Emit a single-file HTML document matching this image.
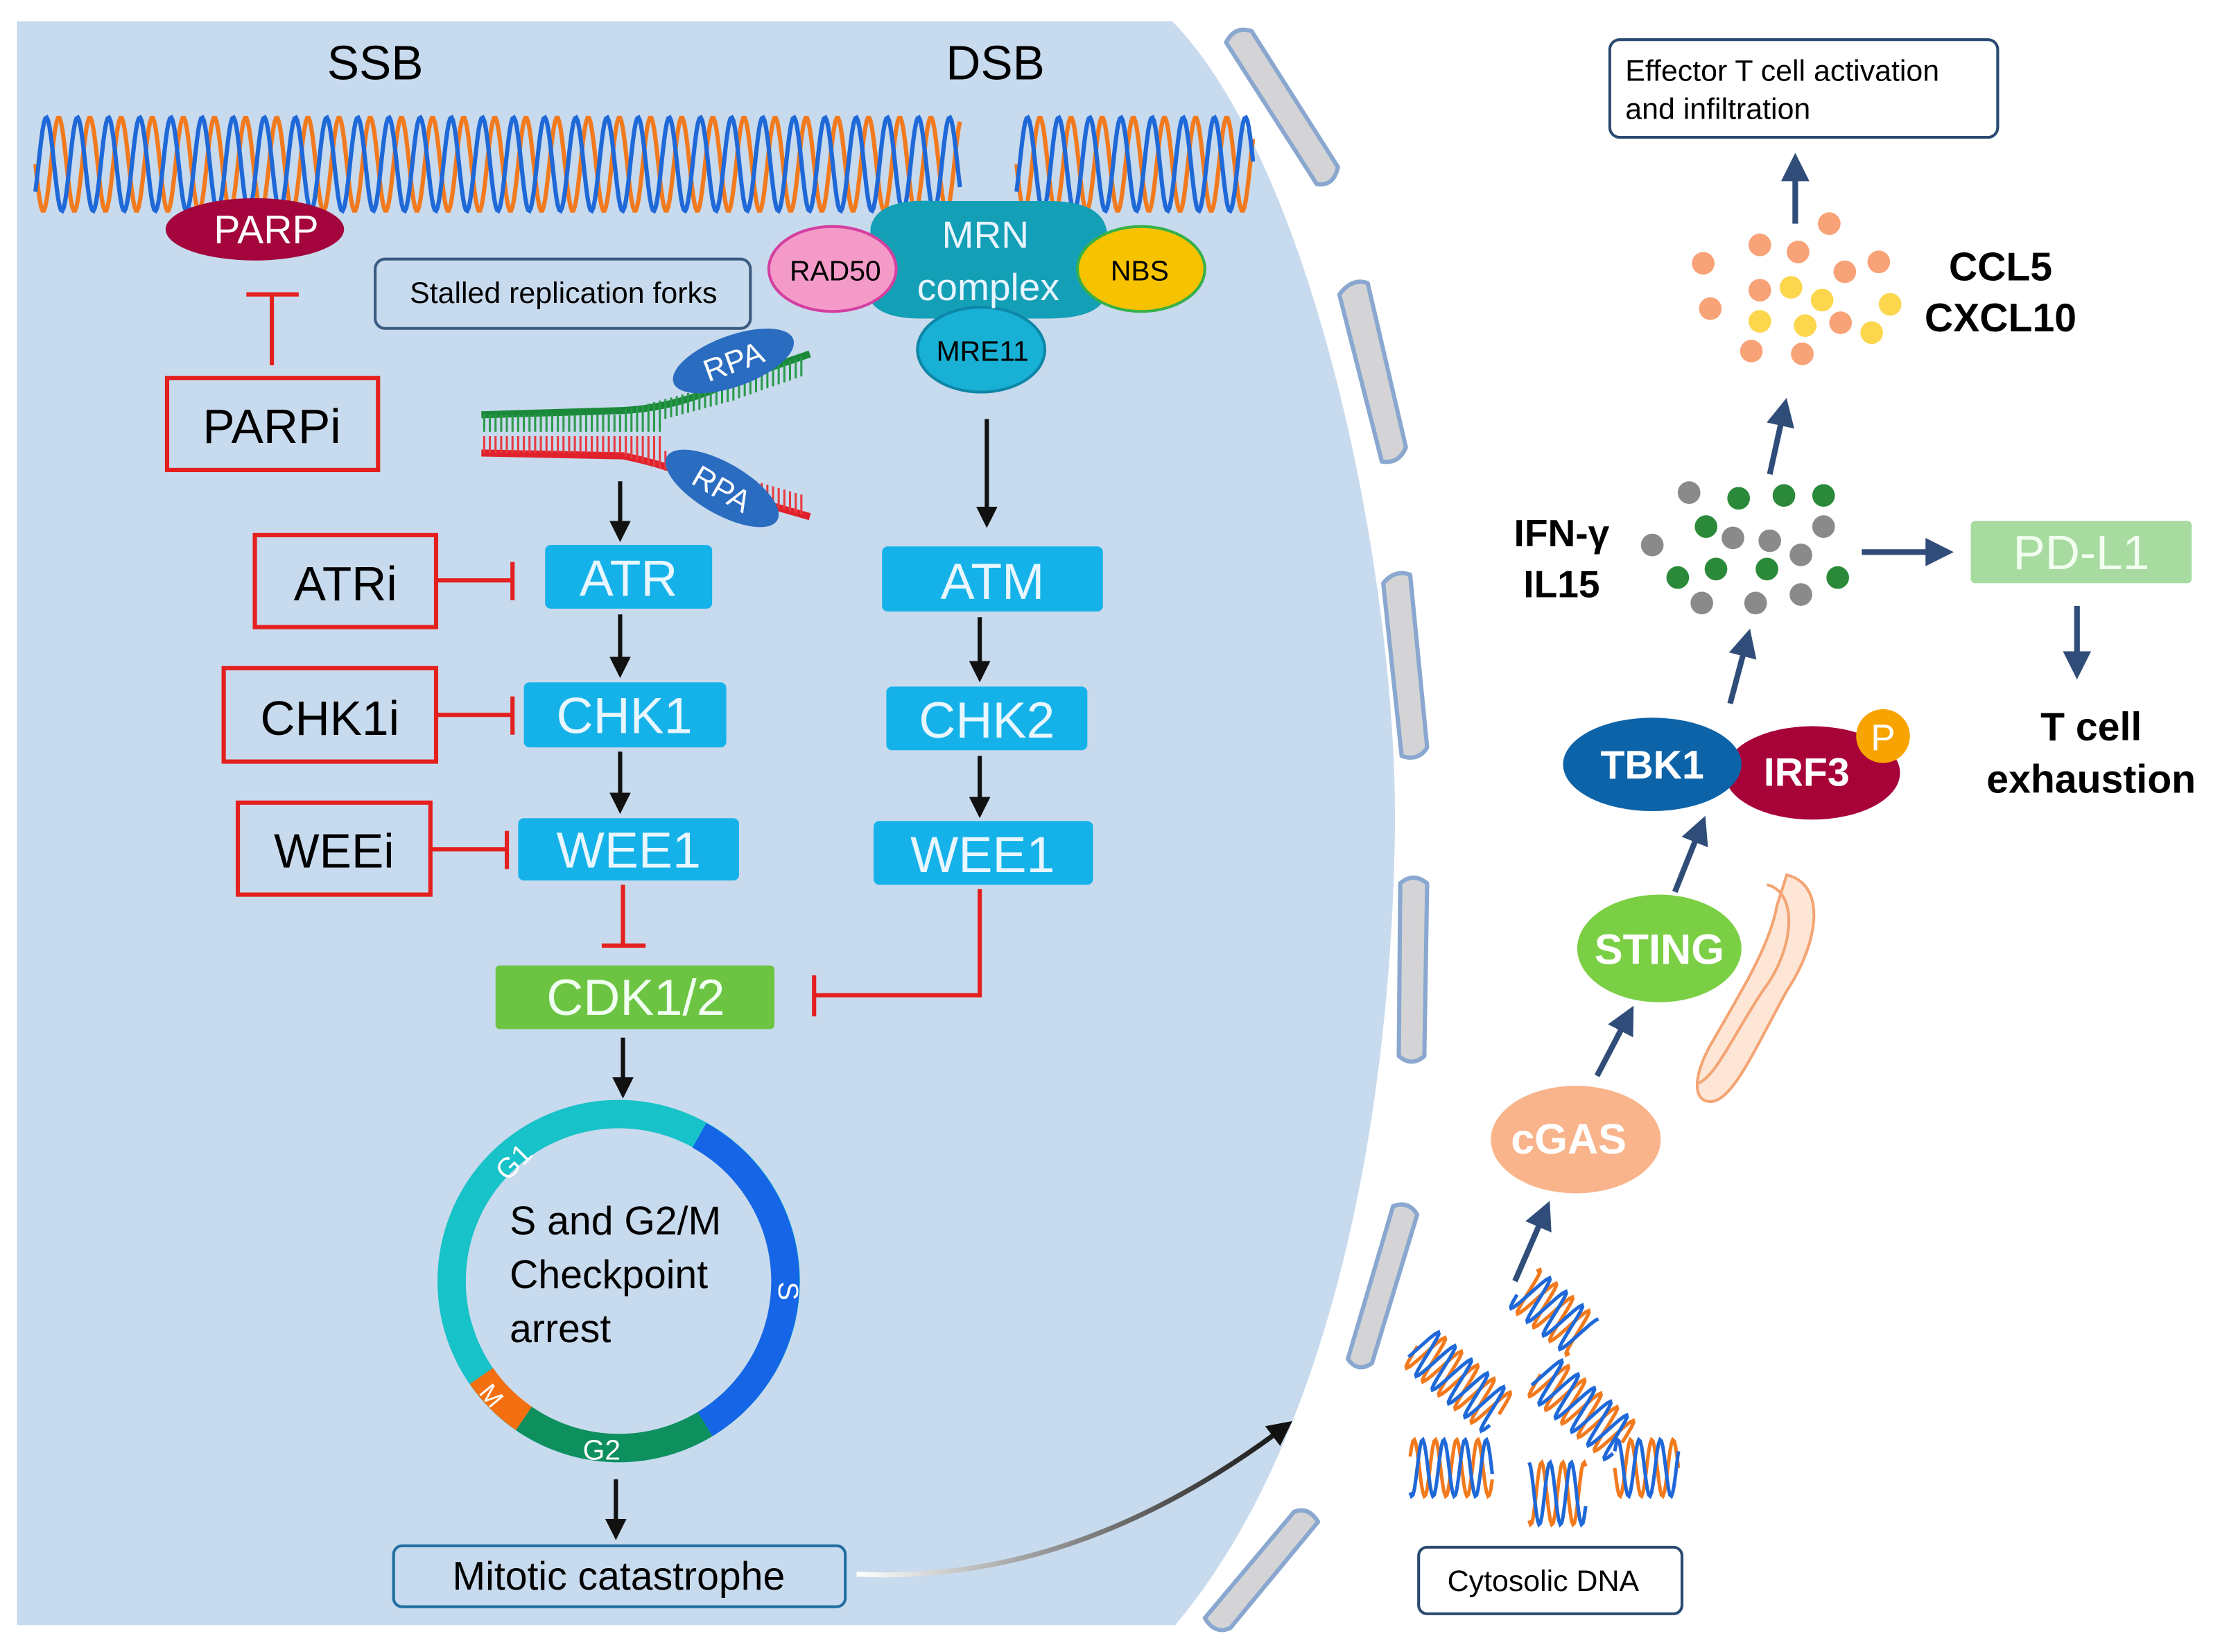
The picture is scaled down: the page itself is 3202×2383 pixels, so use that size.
<!DOCTYPE html>
<html><head><meta charset="utf-8"><style>
html,body{margin:0;padding:0;background:#fff;}
svg{display:block;}
text{font-family:"Liberation Sans",sans-serif;}
</style></head><body>
<svg id="s" xmlns="http://www.w3.org/2000/svg" width="3202" height="2383" viewBox="0 0 1568 1167" preserveAspectRatio="none">
<defs>
<marker id="ab" viewBox="0 0 10 10" refX="8" refY="5" markerWidth="5" markerHeight="5" orient="auto"><path d="M0,0L10,5L0,10z" fill="#111"/></marker>
<marker id="abl" viewBox="0 0 10 10" refX="8" refY="5" markerWidth="5" markerHeight="5" orient="auto"><path d="M0,0L10,5L0,10z" fill="#2f4d78"/></marker>
<linearGradient id="cg" x1="0" y1="0" x2="1" y2="0"><stop offset="0" stop-color="#fff"/><stop offset="1" stop-color="#111"/></linearGradient>
</defs>
<path d="M12,15 L828,15 C930,120 990,420 985,600 C980,820 930,1030 830,1148 L12,1148 Z" fill="#c8daed"/>
<g fill="#d4d4d6" stroke="#8aa8cf" stroke-width="3" stroke-linejoin="round">
<path d="M866,30 Q872,18 884,22 L945,118 Q942,132 930,130 Z"/>
<path d="M946,208 Q955,196 966,200 L993,316 Q988,328 976,326 Z"/>
<path d="M977,412 Q985,402 996,406 L1008,528 Q1002,538 990,534 Z"/>
<path d="M989,624 Q998,616 1008,624 L1006,746 Q997,754 988,746 Z"/>
<path d="M984,852 Q995,848 1001,858 L969,963 Q959,970 952,960 Z"/>
<path d="M914,1068 Q924,1064 931,1075 L869,1150 Q858,1155 851,1143 Z"/>
</g>
<g id="helix"></g>
<text x="265" y="56" font-size="34" text-anchor="middle">SSB</text>
<text x="703" y="56" font-size="34" text-anchor="middle">DSB</text>
<ellipse cx="180" cy="162" rx="63" ry="22" fill="#a3053c"/>
<text x="188" y="172" font-size="28" fill="#fff" text-anchor="middle">PARP</text>
<g stroke="#e3201e" stroke-width="3" fill="none">
<path d="M192,258 V208 M174,208 H211"/>
<rect x="118" y="267" width="149" height="65"/>
<rect x="180" y="378" width="128" height="65"/>
<rect x="158" y="472" width="150" height="66"/>
<rect x="168" y="567" width="136" height="65"/>
<path d="M308,410 H362 M362,397 V424"/>
<path d="M308,505 H362 M362,492 V519"/>
<path d="M304,600 H358 M358,587 V614"/>
<path d="M440,625 V668 M425,668 H456"/>
<path d="M692,628 V703 H575 M575,689 V718"/>
</g>
<text x="192" y="313" font-size="34" text-anchor="middle">PARPi</text>
<text x="244" y="424" font-size="34" text-anchor="middle">ATRi</text>
<text x="233" y="519" font-size="34" text-anchor="middle">CHK1i</text>
<text x="236" y="613" font-size="34" text-anchor="middle">WEEi</text>
<rect x="265" y="183" width="265" height="49" rx="7" fill="#c8daed" stroke="#3a5a80" stroke-width="2"/>
<text x="398" y="214" font-size="21" text-anchor="middle">Stalled replication forks</text>
<path d="M615,160 Q620,140 660,142 L740,142 Q780,142 782,165 L782,205 Q780,225 740,225 L650,225 Q615,225 612,205 Z" fill="#139fb6"/>
<ellipse cx="588" cy="190" rx="45" ry="30" fill="#f49ac8" stroke="#d33fa0" stroke-width="2"/>
<ellipse cx="806" cy="190" rx="45" ry="30" fill="#f7c300" stroke="#37b04a" stroke-width="2"/>
<ellipse cx="693" cy="247" rx="45" ry="30" fill="#18b0d4" stroke="#0d86a8" stroke-width="2"/>
<text x="696" y="175" font-size="27" fill="#e8f4ff" text-anchor="middle">MRN</text>
<text x="698" y="212" font-size="27" fill="#e8f4ff" text-anchor="middle">complex</text>
<text x="590" y="198" font-size="20" text-anchor="middle">RAD50</text>
<text x="805" y="198" font-size="20" text-anchor="middle">NBS</text>
<text x="694" y="255" font-size="20" text-anchor="middle">MRE11</text>
<g id="fork"></g>
<g transform="rotate(-20 518 255)"><ellipse cx="518" cy="255" rx="45" ry="18" fill="#2a6cc0"/><text x="518" y="263" font-size="22" fill="#fff" text-anchor="middle">RPA</text></g>
<g transform="rotate(30 510 345)"><ellipse cx="510" cy="345" rx="45" ry="18" fill="#2a6cc0"/><text x="510" y="353" font-size="22" fill="#fff" text-anchor="middle">RPA</text></g>
<g stroke="#111" stroke-width="3" marker-end="url(#ab)">
<path d="M438,340 V380"/><path d="M438,434 V476"/><path d="M438,531 V572"/>
<path d="M697,296 V370"/><path d="M692,436 V479"/><path d="M692,534 V575"/>
<path d="M440,733 V773"/><path d="M435,1045 V1085"/>
</g>
<g fill="#15b2ea">
<rect x="385" y="385" width="118" height="45" rx="4"/>
<rect x="370" y="482" width="143" height="46" rx="4"/>
<rect x="366" y="578" width="156" height="44" rx="4"/>
<rect x="623" y="386" width="156" height="46" rx="4"/>
<rect x="626" y="485" width="142" height="45" rx="4"/>
<rect x="617" y="580" width="155" height="45" rx="4"/>
</g>
<g font-size="36" fill="#e8f6ff" text-anchor="middle">
<text x="444" y="421">ATR</text><text x="441" y="518">CHK1</text><text x="444" y="613">WEE1</text>
<text x="701" y="423">ATM</text><text x="697" y="521">CHK2</text><text x="694" y="616">WEE1</text>
</g>
<rect x="350" y="682" width="197" height="45" rx="3" fill="#6cc442"/>
<text x="449" y="717" font-size="36" fill="#f0fff0" text-anchor="middle">CDK1/2</text>
<g fill="none" stroke-width="20">
<circle cx="437" cy="905" r="118" stroke="#17c2c8"/>
<path d="M494,802 A118,118 0 0 1 498,1006" stroke="#1565e6"/>
<path d="M498,1006 A118,118 0 0 1 370,1002" stroke="#0e8f5e"/>
<path d="M370,1002 A118,118 0 0 1 340,972" stroke="#f36f10"/>
</g>
<text x="362" y="828" font-size="20" fill="#fff" transform="rotate(-45 362 820)" text-anchor="middle">G1</text>
<text x="557" y="912" font-size="20" fill="#fff" transform="rotate(90 557 912)" text-anchor="middle" dy="7">S</text>
<text x="425" y="1031" font-size="20" fill="#fff" text-anchor="middle">G2</text>
<text x="347" y="992" font-size="18" fill="#fff" transform="rotate(50 347 986)" text-anchor="middle">M</text>
<text x="360" y="872" font-size="28">S and G2/M</text>
<text x="360" y="910" font-size="28">Checkpoint</text>
<text x="360" y="948" font-size="28">arrest</text>
<rect x="278" y="1092" width="319" height="43" rx="6" fill="#c8daed" stroke="#1f6fa0" stroke-width="2"/>
<text x="437" y="1123" font-size="28" text-anchor="middle">Mitotic catastrophe</text>
<path d="M605,1112 Q760,1120 910,1006" stroke="url(#cg)" stroke-width="3.5" fill="none" marker-end="url(#ab)"/>
<g id="cyto"></g>
<rect x="1002" y="1093" width="186" height="47" rx="6" fill="#fff" stroke="#2a4a70" stroke-width="2"/>
<text x="1090" y="1124" font-size="21" text-anchor="middle">Cytosolic DNA</text>
<g stroke="#2f4d78" stroke-width="4" marker-end="url(#abl)">
<path d="M1070,905 L1093,852"/><path d="M1128,760 L1152,714"/><path d="M1183,630 L1203,580"/>
<path d="M1222,497 L1235,448"/><path d="M1250,335 L1261,285"/><path d="M1268,158 V112"/>
<path d="M1315,390 H1376"/><path d="M1467,428 V476"/>
</g>
<ellipse cx="1113" cy="805" rx="60" ry="38" fill="#f9b48b"/>
<text x="1108" y="815" font-size="30" font-weight="bold" fill="#fff" text-anchor="middle">cGAS</text>
<g fill="none" stroke="#f4a474" stroke-width="2">
<path d="M1262,618 C1290,625 1285,665 1262,700 C1240,740 1225,775 1210,778 C1195,780 1195,760 1210,735 C1230,700 1250,668 1255,640 Z" fill="#fde6d6"/>
<path d="M1248,625 C1270,630 1268,670 1245,700 C1225,730 1212,760 1200,765" />
</g>
<ellipse cx="1172" cy="670" rx="58" ry="38" fill="#7bcf44"/>
<text x="1172" y="681" font-size="30" font-weight="bold" fill="#fff" text-anchor="middle">STING</text>
<ellipse cx="1280" cy="546" rx="62" ry="33" fill="#a80338"/>
<ellipse cx="1167" cy="540" rx="63" ry="33" fill="#0d63a8"/>
<text x="1167" y="550" font-size="28" font-weight="bold" fill="#fff" text-anchor="middle">TBK1</text>
<text x="1276" y="555" font-size="28" font-weight="bold" fill="#fff" text-anchor="middle">IRF3</text>
<circle cx="1330" cy="520" r="19" fill="#f8a400"/>
<text x="1330" y="530" font-size="26" fill="#fff" text-anchor="middle">P</text>
<g id="dots"></g>
<text x="1103" y="386" font-size="27" font-weight="bold" text-anchor="middle">IFN-γ</text>
<text x="1103" y="422" font-size="27" font-weight="bold" text-anchor="middle">IL15</text>
<rect x="1392" y="368" width="156" height="44" rx="3" fill="#a7dba0"/>
<text x="1470" y="402" font-size="34" fill="#f2fff0" text-anchor="middle">PD-L1</text>
<text x="1477" y="523" font-size="28" font-weight="bold" text-anchor="middle">T cell</text>
<text x="1477" y="560" font-size="28" font-weight="bold" text-anchor="middle">exhaustion</text>
<text x="1413" y="198" font-size="28" font-weight="bold" text-anchor="middle">CCL5</text>
<text x="1413" y="234" font-size="28" font-weight="bold" text-anchor="middle">CXCL10</text>
<rect x="1137" y="28" width="274" height="69" rx="7" fill="#fff" stroke="#2a4a70" stroke-width="2"/>
<text x="1148" y="57" font-size="21">Effector T cell activation</text>
<text x="1148" y="84" font-size="21">and infiltration</text>
</svg>
<script>
var NS="http://www.w3.org/2000/svg";
function el(p,t,a){var e=document.createElementNS(NS,t);for(var k in a)e.setAttribute(k,a[k]);p.appendChild(e);return e;}
function wave(x0,x1,yc,amp,per,ph){var d="";for(var x=x0;x<=x1;x+=1){var y=yc+amp*Math.sin(2*Math.PI*(x-x0)/per+ph);d+=(x==x0?"M":"L")+x.toFixed(1)+","+y.toFixed(1);}return d;}
var h=document.getElementById("helix");
[[25,678],[718,885]].forEach(function(s){
 el(h,"path",{d:wave(s[0],s[1],116,33,22,0),stroke:"#f27a1e","stroke-width":3,fill:"none"});
 el(h,"path",{d:wave(s[0],s[1],116,33,22,Math.PI*0.8),stroke:"#1f68d8","stroke-width":3,fill:"none"});
});
var f=document.getElementById("fork");
el(f,"path",{d:"M340,293 L440,290 Q480,288 520,268 L572,250",stroke:"#1a8a3a","stroke-width":5,fill:"none"});
el(f,"path",{d:"M340,320 L440,322 Q480,330 520,350 L572,365",stroke:"#e0202a","stroke-width":5,fill:"none"});
for(var x=342;x<570;x+=4){
 var y1=x<440?293:(x<520?290-(x-440)*0.27:268-(x-520)*0.35);
 el(f,"line",{x1:x,y1:y1,x2:x,y2:(x<470?305:y1+14),stroke:"#2a9a4a","stroke-width":1.5});
 var y2=x<440?320:(x<520?322+(x-440)*0.35:350+(x-520)*0.29);
 el(f,"line",{x1:x,y1:y2,x2:x,y2:(x<470?308:y2-14),stroke:"#e83a40","stroke-width":1.5});
}
var c=document.getElementById("cyto");
function mini(cx,cy,len,rot,amp){var g=el(c,"g",{transform:"translate("+cx+","+cy+") rotate("+rot+")"});
 var dA="",dB="";for(var y=-len/2;y<=len/2;y+=1){var xa=amp*Math.sin(2*Math.PI*y/15),xb=amp*Math.sin(2*Math.PI*y/15+Math.PI*0.8);dA+=(dA?"L":"M")+xa.toFixed(1)+","+y;dB+=(dB?"L":"M")+xb.toFixed(1)+","+y;}
 el(g,"path",{d:dA,stroke:"#f27a1e","stroke-width":2.5,fill:"none"});el(g,"path",{d:dB,stroke:"#1f68d8","stroke-width":2.5,fill:"none"});}
mini(1030,975,75,-50,17);mini(1097,927,55,-50,17);mini(1117,995,75,-50,17);
mini(1025,1037,58,90,20);mini(1100,1055,40,90,22);mini(1163,1037,45,90,20);
var d=document.getElementById("dots");
var o=[[1203,186],[1243,173],[1270,178],[1292,158],[1327,185],[1208,218],[1243,205],[1303,192],[1300,228],[1273,250],[1237,248]];
var yl=[[1265,203],[1287,212],[1335,215],[1322,235],[1243,227],[1275,230]];
o.forEach(function(p){el(d,"circle",{cx:p[0],cy:p[1],r:8,fill:"#f8a277"});});
yl.forEach(function(p){el(d,"circle",{cx:p[0],cy:p[1],r:8,fill:"#fcd64c"});});
var gr=[[1193,348],[1167,385],[1224,380],[1250,382],[1288,372],[1272,420],[1240,426],[1202,426],[1272,392]];
var gn=[[1228,352],[1260,350],[1288,350],[1205,372],[1212,402],[1185,408],[1248,402],[1298,408]];
gr.forEach(function(p){el(d,"circle",{cx:p[0],cy:p[1],r:8,fill:"#8a8a8a"});});
gn.forEach(function(p){el(d,"circle",{cx:p[0],cy:p[1],r:8,fill:"#2a8a3a"});});
</script>
</body></html>
